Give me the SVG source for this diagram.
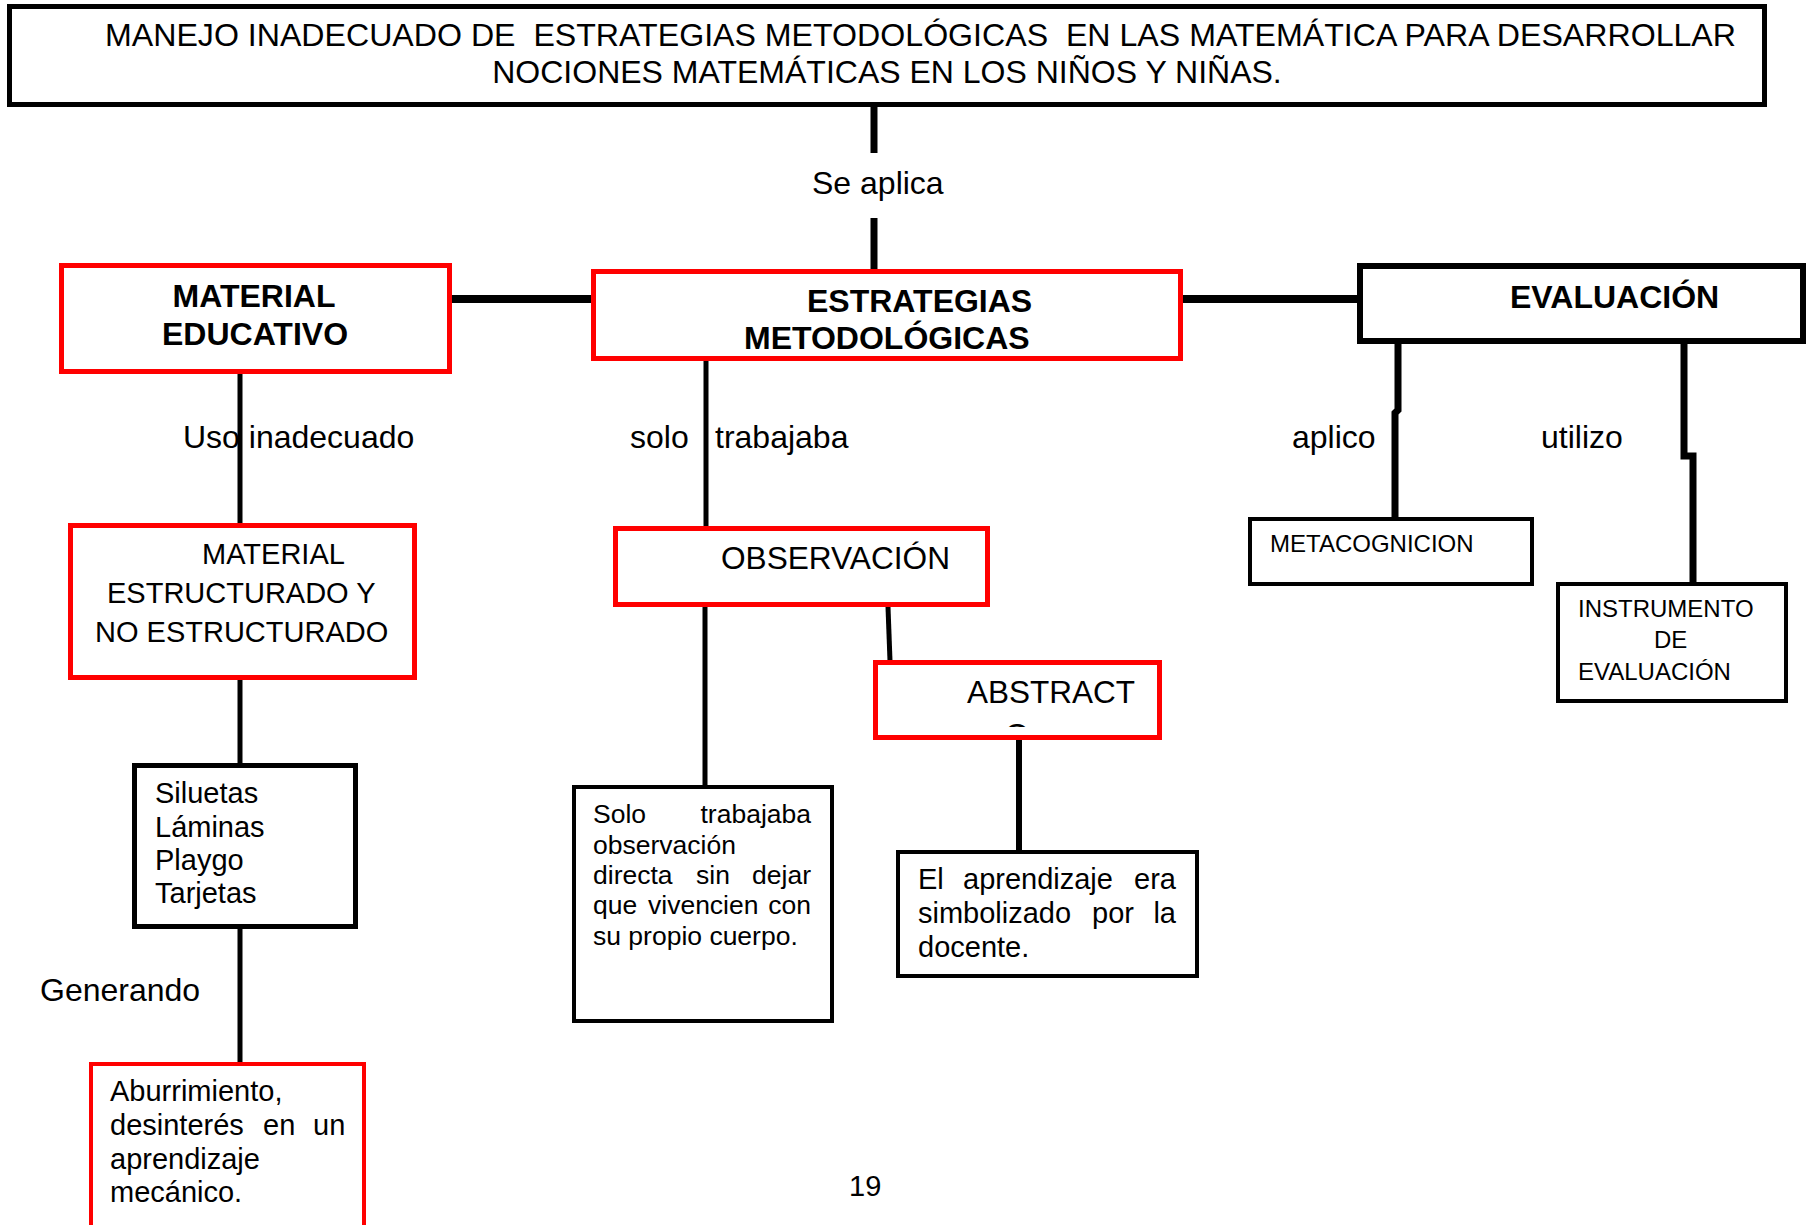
<svg xmlns="http://www.w3.org/2000/svg" width="1811" height="1225" viewBox="0 0 1811 1225">
<style>
text{font-family:"Liberation Sans",Arial,sans-serif;fill:#000}
.rb{fill:#fff;stroke:#ff0000;stroke-width:5}
.rt{fill:#fff;stroke:#ff0000;stroke-width:4}
.bb{fill:#fff;stroke:#000;stroke-width:5}
.bt{fill:#fff;stroke:#000;stroke-width:4}
.c{fill:none;stroke:#000;stroke-linecap:butt}
.t32{font-size:32px}
.b32{font-size:32px;font-weight:bold}
.t29{font-size:29px}
.t24{font-size:24px}
.pre{white-space:pre}
</style>
<defs>
<clipPath id="absclip"><rect x="878" y="665" width="279" height="62"/></clipPath>
</defs>
<rect width="1811" height="1225" fill="#fff"/>

<g id="connectors">
<line class="c" x1="874" y1="107" x2="874" y2="153" stroke-width="7"/>
<line class="c" x1="874" y1="218" x2="874" y2="271" stroke-width="7"/>
<line class="c" x1="452" y1="299" x2="591" y2="299" stroke-width="8"/>
<line class="c" x1="1183" y1="299" x2="1358" y2="299" stroke-width="8"/>
<line class="c" x1="240" y1="374" x2="240" y2="524" stroke-width="5"/>
<line class="c" x1="240" y1="680" x2="240" y2="764" stroke-width="5"/>
<line class="c" x1="240" y1="929" x2="240" y2="1063" stroke-width="5"/>
<line class="c" x1="706" y1="361" x2="706" y2="527" stroke-width="5"/>
<line class="c" x1="705" y1="607" x2="705" y2="786" stroke-width="5"/>
<line class="c" x1="888" y1="607" x2="890" y2="661" stroke-width="5"/>
<line class="c" x1="1019" y1="740" x2="1019" y2="851" stroke-width="6"/>
<polyline class="c" points="1398,344 1398,410 1395,413 1395,518" stroke-width="7"/>
<polyline class="c" points="1684,344 1684,456 1693,456 1693,583" stroke-width="7"/>
</g>

<g id="labels">
<text class="t32" x="812" y="194">Se aplica</text>
<text class="t32" x="183" y="448">Uso inadecuado</text>
<text class="t32" x="630" y="448">solo</text>
<text class="t32" x="715" y="448">trabajaba</text>
<text class="t32" x="1292" y="448">aplico</text>
<text class="t32" x="1541" y="448">utilizo</text>
<text class="t32" x="40" y="1001">Generando</text>
<text class="t29" x="849" y="1196">19</text>
</g>

<g id="node-title">
<rect class="bb" x="9.5" y="6.5" width="1755" height="98"/>
<text class="t32 pre" x="105" y="46" textLength="1631" lengthAdjust="spacingAndGlyphs">MANEJO INADECUADO DE  ESTRATEGIAS METODOLÓGICAS  EN LAS MATEMÁTICA PARA DESARROLLAR</text>
<text class="t32" x="887" y="83" text-anchor="middle">NOCIONES MATEMÁTICAS EN LOS NIÑOS Y NIÑAS.</text>
</g>

<g id="node-material-educativo">
<rect class="rb" x="61.5" y="265.5" width="388" height="106"/>
<text class="b32" x="254" y="307" text-anchor="middle">MATERIAL</text>
<text class="b32" x="255" y="345" text-anchor="middle">EDUCATIVO</text>
</g>

<g id="node-estrategias">
<rect class="rb" x="593.5" y="271.5" width="587" height="87"/>
<text class="b32" x="807" y="312">ESTRATEGIAS</text>
<text class="b32" x="744" y="349">METODOLÓGICAS</text>
</g>

<g id="node-evaluacion">
<rect x="1360" y="266" width="443" height="75" fill="#fff" stroke="#000" stroke-width="6"/>
<text class="b32" x="1510" y="308">EVALUACIÓN</text>
</g>

<g id="node-material-estructurado">
<rect class="rb" x="70.5" y="525.5" width="344" height="152"/>
<text class="t29" x="202" y="564">MATERIAL</text>
<text class="t29" x="107" y="603">ESTRUCTURADO Y</text>
<text class="t29" x="95" y="642">NO ESTRUCTURADO</text>
</g>

<g id="node-siluetas">
<rect class="bb" x="134.5" y="765.5" width="221" height="161"/>
<text class="t29" x="155" y="803">Siluetas</text>
<text class="t29" x="155" y="837">Láminas</text>
<text class="t29" x="155" y="870">Playgo</text>
<text class="t29" x="155" y="903">Tarjetas</text>
</g>

<g id="node-aburrimiento">
<rect class="rt" x="91" y="1064" width="273" height="200"/>
<text class="t29" x="110" y="1101">Aburrimiento,</text>
<text class="t29" y="1135"><tspan x="110">desinterés</tspan><tspan x="263">en</tspan><tspan x="313">un</tspan></text>
<text class="t29" x="110" y="1169">aprendizaje</text>
<text class="t29" x="110" y="1202">mecánico.</text>
</g>

<g id="node-observacion">
<rect class="rb" x="615.5" y="528.5" width="372" height="76"/>
<text class="t32" x="721" y="569" textLength="229" lengthAdjust="spacingAndGlyphs">OBSERVACIÓN</text>
</g>

<g id="node-abstracto">
<rect class="rb" x="875.5" y="662.5" width="284" height="75"/>
<text class="t32" x="967" y="703" textLength="168" lengthAdjust="spacingAndGlyphs">ABSTRACT</text>
<text class="t32" x="1017" y="746" text-anchor="middle" clip-path="url(#absclip)">O</text>
</g>

<g id="node-solo">
<rect class="bt" x="574" y="787" width="258" height="234"/>
<text style="font-size:26.5px" x="593" y="823">Solo</text>
<text style="font-size:26.5px" x="811" y="823" text-anchor="end">trabajaba</text>
<text style="font-size:26.5px" x="593" y="854">observación</text>
<text style="font-size:26.5px" y="884"><tspan x="593">directa</tspan><tspan x="696">sin</tspan></text>
<text style="font-size:26.5px" x="811" y="884" text-anchor="end">dejar</text>
<text style="font-size:26.5px" y="914"><tspan x="593">que</tspan><tspan x="648">vivencien</tspan></text>
<text style="font-size:26.5px" x="811" y="914" text-anchor="end">con</text>
<text style="font-size:26.5px" x="593" y="945">su propio cuerpo.</text>
</g>

<g id="node-aprendizaje">
<rect class="bt" x="898" y="852" width="299" height="124"/>
<text class="t29" y="889"><tspan x="918">El</tspan><tspan x="963">aprendizaje</tspan></text>
<text class="t29" x="1176" y="889" text-anchor="end">era</text>
<text class="t29" y="923"><tspan x="918">simbolizado</tspan><tspan x="1092">por</tspan></text>
<text class="t29" x="1176" y="923" text-anchor="end">la</text>
<text class="t29" x="918" y="957">docente.</text>
</g>

<g id="node-metacognicion">
<rect class="bt" x="1250" y="519" width="282" height="65"/>
<text class="t24" x="1270" y="552">METACOGNICION</text>
</g>

<g id="node-instrumento">
<rect class="bt" x="1558" y="584" width="228" height="117"/>
<text class="t24" x="1578" y="617">INSTRUMENTO</text>
<text class="t24" x="1654" y="648">DE</text>
<text class="t24" x="1578" y="680">EVALUACIÓN</text>
</g>
</svg>
